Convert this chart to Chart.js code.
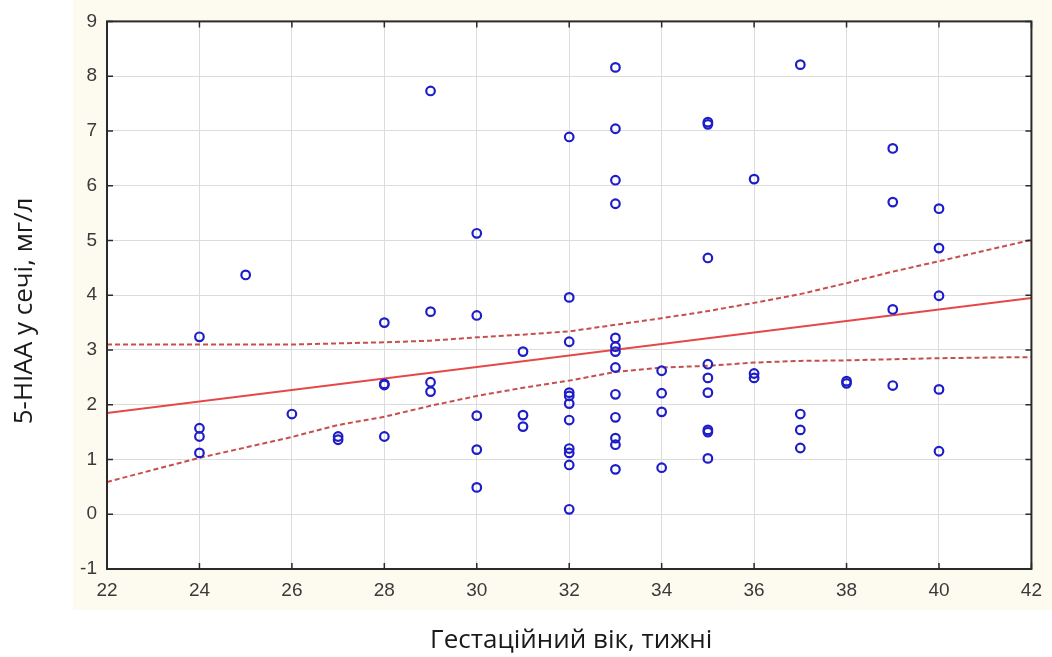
<!DOCTYPE html>
<html lang="uk">
<head>
<meta charset="UTF-8">
<title>5-HIAA у сечі та гестаційний вік</title>
<style>
  body { margin: 0; background: #fff; }
  #scatter { display: block; }
</style>
</head>
<body>
<canvas id="scatter" width="1052" height="657"></canvas>
<script src="https://cdn.jsdelivr.net/npm/chart.js@4"></script>
<script>
// measured pairs: gestational age (weeks) and urinary 5-HIAA (mg/l)
const pointWeeks = [
  24, 24, 24, 24,
  25,
  26,
  27, 27,
  28, 28, 28, 28,
  29, 29, 29, 29,
  30, 30, 30, 30, 30,
  31, 31, 31,
  32, 32, 32, 32, 32, 32, 32, 32, 32, 32, 32,
  33, 33, 33, 33, 33, 33, 33, 33, 33, 33, 33, 33, 33,
  34, 34, 34, 34,
  35, 35, 35, 35, 35, 35, 35, 35, 35,
  36, 36, 36,
  37, 37, 37, 37,
  38, 38,
  39, 39, 39, 39,
  40, 40, 40, 40, 40
];
const pointValues = [
  3.24, 1.57, 1.42, 1.12,
  4.37,
  1.83,
  1.42, 1.36,
  3.50, 2.38, 2.36, 1.42,
  7.73, 3.70, 2.41, 2.24,
  5.13, 3.63, 1.80, 1.18, 0.49,
  2.97, 1.81, 1.60,
  6.89, 3.96, 3.15, 2.22, 2.16, 2.02, 1.72, 1.20, 1.12, 0.90, 0.09,
  8.16, 7.04, 6.10, 5.67, 3.22, 3.06, 2.97, 2.68, 2.19, 1.77, 1.39, 1.27, 0.82,
  2.62, 2.21, 1.87, 0.85,
  7.16, 7.12, 4.68, 2.74, 2.49, 2.22, 1.54, 1.50, 1.02,
  6.12, 2.57, 2.49,
  8.21, 1.83, 1.54, 1.21,
  2.43, 2.39,
  6.68, 5.70, 3.74, 2.35,
  5.58, 4.86, 3.99, 2.28, 1.15
];

// linear fit and its 95% confidence band
const fitWeeks = [22, 42];
const fitValues = [1.85, 3.95];
const bandWeeks = [22, 24, 26, 27, 28, 29, 30, 31, 32, 33, 34, 35, 36, 37, 38, 39, 40, 42];
const bandUpper = [3.10, 3.10, 3.10, 3.12, 3.14, 3.17, 3.23, 3.28, 3.34, 3.46, 3.58, 3.71, 3.86, 4.02, 4.22, 4.43, 4.62, 5.01];
const bandLower = [0.59, 1.03, 1.41, 1.63, 1.78, 1.98, 2.16, 2.31, 2.44, 2.60, 2.68, 2.71, 2.77, 2.80, 2.81, 2.83, 2.85, 2.87];

const xTitle = 'Гестаційний вік, тижні';
const yTitle = '5-HIAA у сечі, мг/л';

const toXY = (xs, ys) => xs.map((x, i) => ({ x: x, y: ys[i] }));

// cream panel behind the tick labels, white plot area on top of it
const panelBackground = {
  id: 'panelBackground',
  beforeDraw(chart) {
    const { ctx, chartArea: a } = chart;
    ctx.save();
    ctx.fillStyle = '#ffffff';
    ctx.fillRect(0, 0, chart.width, chart.height);
    ctx.fillStyle = '#fdfaef';
    ctx.fillRect(a.left - 34, 0, chart.width - a.left + 34, a.bottom + 41);
    ctx.fillStyle = '#ffffff';
    ctx.fillRect(a.left, a.top, a.right - a.left, a.bottom - a.top);
    ctx.restore();
  }
};

// box around the plot with inward tick marks on every side
const plotFrame = {
  id: 'plotFrame',
  afterDatasetsDraw(chart) {
    const { ctx, chartArea: a, scales } = chart;
    const len = 6;
    ctx.save();
    ctx.strokeStyle = '#2a2a2a';
    ctx.lineWidth = 1.5;
    ctx.beginPath();
    scales.x.ticks.forEach(t => {
      const px = scales.x.getPixelForValue(t.value);
      ctx.moveTo(px, a.top); ctx.lineTo(px, a.top + len);
      ctx.moveTo(px, a.bottom); ctx.lineTo(px, a.bottom - len);
    });
    scales.y.ticks.forEach(t => {
      const py = scales.y.getPixelForValue(t.value);
      ctx.moveTo(a.left, py); ctx.lineTo(a.left + len, py);
      ctx.moveTo(a.right, py); ctx.lineTo(a.right - len, py);
    });
    ctx.stroke();
    ctx.lineWidth = 2;
    ctx.strokeRect(a.left, a.top, a.right - a.left, a.bottom - a.top);
    ctx.restore();
  }
};

// axis titles sit outside the cream panel
const axisTitles = {
  id: 'axisTitles',
  afterDraw(chart) {
    const { ctx, chartArea: a } = chart;
    ctx.save();
    ctx.fillStyle = '#1a1a1a';
    ctx.font = '26px "Open Sans", sans-serif';
    ctx.textAlign = 'center';
    ctx.textBaseline = 'alphabetic';
    ctx.fillText(xTitle, (a.left + a.right) / 2 + 2, 648);
    ctx.translate(32, 311);
    ctx.rotate(-Math.PI / 2);
    ctx.fillText(yTitle, 0, 0);
    ctx.restore();
  }
};

const tickFont = { family: '"Liberation Sans", Arial, sans-serif', size: 19 };

new Chart(document.getElementById('scatter'), {
  type: 'scatter',
  data: {
    datasets: [
      {
        data: toXY(pointWeeks, pointValues),
        pointStyle: 'circle',
        pointRadius: 4.3,
        borderWidth: 2.2,
        pointBorderWidth: 2.2,
        borderColor: '#1e1ec8',
        backgroundColor: 'rgba(255,255,255,0)'
      },
      {
        data: toXY(fitWeeks, fitValues),
        showLine: true,
        pointRadius: 0,
        borderColor: '#e64848',
        borderWidth: 2
      },
      {
        data: toXY(bandWeeks, bandUpper),
        showLine: true,
        pointRadius: 0,
        borderColor: '#c84e4e',
        borderWidth: 2,
        borderDash: [5, 3]
      },
      {
        data: toXY(bandWeeks, bandLower),
        showLine: true,
        pointRadius: 0,
        borderColor: '#c84e4e',
        borderWidth: 2,
        borderDash: [5, 3]
      }
    ]
  },
  options: {
    responsive: false,
    animation: false,
    devicePixelRatio: 1,
    layout: { padding: { top: 19, right: 18, left: 0, bottom: 0 } },
    plugins: {
      legend: { display: false },
      tooltip: { enabled: false }
    },
    scales: {
      x: {
        type: 'linear',
        min: 22,
        max: 42,
        ticks: { stepSize: 2, font: tickFont, color: '#3a3a3a', padding: 10 },
        grid: { color: '#dcdcdc', lineWidth: 1, drawTicks: false },
        border: { display: false },
        afterFit(scale) { scale.height = 88; }
      },
      y: {
        type: 'linear',
        min: -1,
        max: 9,
        ticks: { stepSize: 1, font: tickFont, color: '#3a3a3a', padding: 10 },
        grid: { color: '#dcdcdc', lineWidth: 1, drawTicks: false },
        border: { display: false },
        afterFit(scale) { scale.width = 107; }
      }
    }
  },
  plugins: [panelBackground, plotFrame, axisTitles]
});
</script>
</body>
</html>
